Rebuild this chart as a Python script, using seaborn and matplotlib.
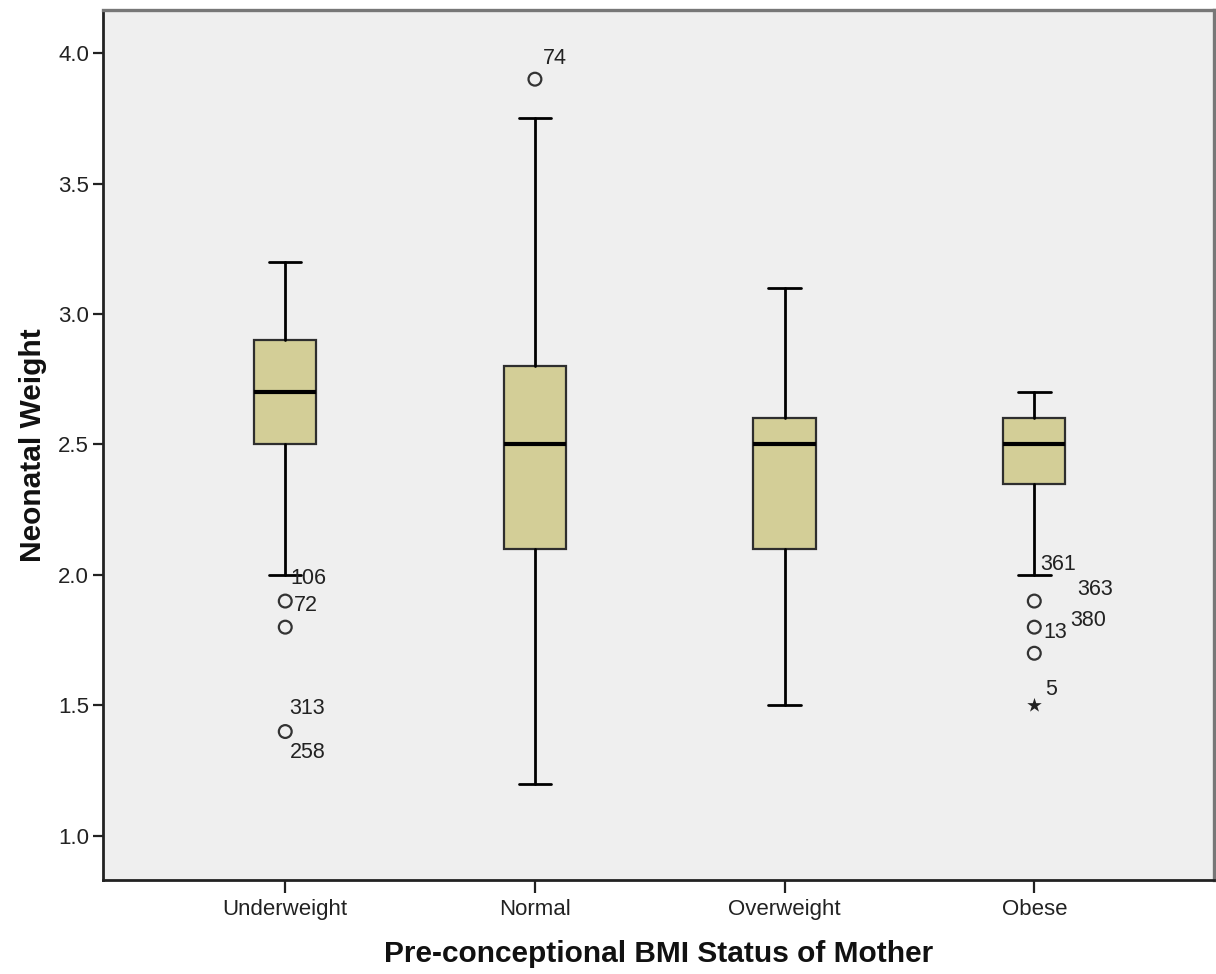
import matplotlib
matplotlib.use("Agg")
import matplotlib.pyplot as plt
import seaborn as sns
import pandas as pd

# Summary statistics per BMI group
categories = ["Underweight", "Normal", "Overweight", "Obese"]
whisker_low = [2.0, 1.2, 1.5, 2.0]
q1 = [2.5, 2.1, 2.1, 2.35]
median = [2.7, 2.5, 2.5, 2.5]
q3 = [2.9, 2.8, 2.6, 2.6]
whisker_high = [3.2, 3.75, 3.1, 2.7]

# Outlying cases: group index, value
outlier_group = [0, 0, 0, 1, 3, 3, 3]
outlier_value = [1.9, 1.8, 1.4, 3.9, 1.9, 1.8, 1.7]
# Extreme cases (starred)
extreme_group = [3]
extreme_value = [1.5]

# Case labels: group index, anchor value, text
case_group = [0, 0, 0, 0, 1, 3, 3, 3, 3, 3]
case_value = [1.9, 1.9, 1.4, 1.4, 3.9, 1.9, 1.9, 1.8, 1.8, 1.5]
case_text = ["106", "72", "313", "258", "74", "361", "363", "380", "13", "5"]

sns.set_theme(style="white")
plt.rcParams["font.family"] = ["Liberation Sans", "DejaVu Sans"]

fig = plt.figure(figsize=(12.16, 9.74), dpi=100)
ax = fig.add_axes([0.0847, 0.0965, 0.9137, 0.8932])
ax.set_facecolor("#efefef")

stats = []
for i, name in enumerate(categories):
    stats.append(dict(label=name, whislo=whisker_low[i], q1=q1[i], med=median[i],
                      q3=q3[i], whishi=whisker_high[i], fliers=[]))

ax.bxp(stats, positions=range(len(categories)), widths=0.25, patch_artist=True,
       showfliers=False, capwidths=0.13,
       boxprops=dict(facecolor="#d3ce97", edgecolor="#2e2e2e", linewidth=1.6),
       medianprops=dict(color="black", linewidth=3.0, solid_capstyle="butt"),
       whiskerprops=dict(color="black", linewidth=2.0),
       capprops=dict(color="black", linewidth=2.0))

outliers = pd.DataFrame({"group": outlier_group, "value": outlier_value})
sns.scatterplot(data=outliers, x="group", y="value", ax=ax, marker="o", s=85,
                facecolors="none", edgecolor="#333333", linewidth=1.6, zorder=4)
extremes = pd.DataFrame({"group": extreme_group, "value": extreme_value})
sns.scatterplot(data=extremes, x="group", y="value", ax=ax, marker="*", s=120,
                color="#222222", linewidth=0, zorder=4)

# Offsets (points) for each case label relative to its marker
label_offsets = [(3.5, 16.5), (6, -3), (3, 16.5), (3, -15), (6, 15),
                 (4, 26), (31, 8), (26, 5), (6.5, -3.6), (8, 11.5)]
for g, v, t, off in zip(case_group, case_value, case_text, label_offsets):
    ax.annotate(t, (g, v), xytext=off, textcoords="offset points",
                ha="left", va="center", fontsize=15.5, color="#222222", zorder=5)

ax.set_xlim(-0.73, 3.72)
ax.set_ylim(0.831, 4.165)
ax.set_xticks(range(len(categories)))
ax.set_xticklabels(categories)
ax.set_yticks([1.0, 1.5, 2.0, 2.5, 3.0, 3.5, 4.0])
ax.set_yticklabels(["1.0", "1.5", "2.0", "2.5", "3.0", "3.5", "4.0"])
ax.tick_params(axis="both", direction="out", labelsize=16, colors="#222222",
               width=1.6, bottom=True, left=True)
ax.tick_params(axis="x", length=9, pad=5)
ax.tick_params(axis="y", length=7, pad=3)

ax.set_xlabel("Pre-conceptional BMI Status of Mother", fontsize=21.5,
              fontweight="bold", labelpad=14, color="#111111")
ax.set_ylabel("Neonatal Weight", fontsize=21.5, fontweight="bold", labelpad=8,
              color="#111111")

for side in ["left", "bottom"]:
    ax.spines[side].set_color("#222222")
    ax.spines[side].set_linewidth(2.0)
for side in ["top", "right"]:
    ax.spines[side].set_color("#777777")
    ax.spines[side].set_linewidth(2.4)
    ax.spines[side].set_visible(True)

fig.savefig("out.png", dpi=100, facecolor="white")
